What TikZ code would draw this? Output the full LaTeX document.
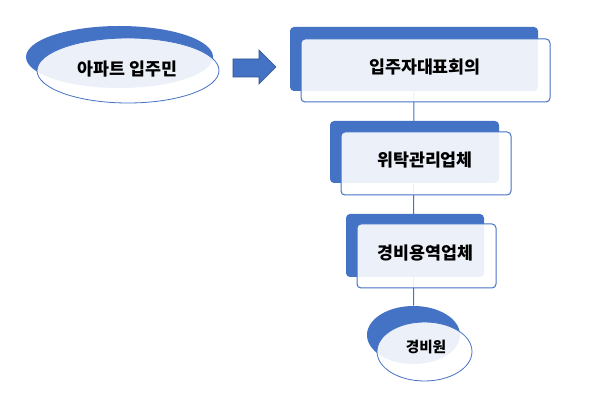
\documentclass[tikz,border=0pt]{standalone}
\usepackage{fontspec}
\newfontfamily\kr{Noto Sans CJK KR}
\usetikzlibrary{shapes.geometric}
\definecolor{accent}{HTML}{4472C4}
\definecolor{accentdark}{HTML}{2F528F}
\pgfdeclarelayer{bg}
\pgfdeclarelayer{line}
\pgfsetlayers{bg,line,main}
\tikzset{
  backbox/.style={rectangle, rounded corners=3pt, fill=accent, draw=none, inner sep=0pt},
  frontbox/.style={rectangle, rounded corners=3pt, fill=white, fill opacity=0.9, draw=accent, line width=0.75pt, inner sep=0pt},
  backell/.style={ellipse, fill=accent, draw=none, inner sep=0pt},
  frontell/.style={ellipse, fill=white, fill opacity=0.9, draw=accent, line width=0.6pt, inner sep=0pt},
  lbl/.style={font=\kr\bfseries\fontsize{13pt}{15pt}\selectfont, text=black, inner sep=0pt},
  smalllbl/.style={font=\kr\bfseries\fontsize{11pt}{13pt}\selectfont, text=black, inner sep=0pt},
  link/.style={draw=accent, line width=0.75pt}
}
\begin{document}
\begin{tikzpicture}[x=0.75pt,y=-0.75pt]
\useasboundingbox (0,0) rectangle (594,406);
\begin{pgfonlayer}{bg}
\fill[white] (0,0) rectangle (594,406);
\end{pgfonlayer}
% back shapes (positions in px; sizes in pt = px*0.75)
\node[backell, minimum width=140.25pt, minimum height=46.5pt] (e1b) at (119.5,57) {};
\node[backbox, minimum width=186pt, minimum height=48pt] (b1b) at (414,59) {};
\node[backbox, minimum width=126.75pt, minimum height=46.5pt] (b2b) at (414.5,152) {};
\node[backbox, minimum width=103.5pt, minimum height=47.25pt] (b3b) at (415,245.5) {};
\node[backell, minimum width=69.75pt, minimum height=43.5pt] (e4b) at (413.5,335) {};
% connector behind the shapes
\begin{pgfonlayer}{line}
\draw[link] (b1b.center) -- (e4b.north);
\end{pgfonlayer}
% front shapes
\node[frontell, minimum width=136.5pt, minimum height=48.75pt] (e1f) at (128,70.5) {};
\node[frontbox, minimum width=186.75pt, minimum height=47.25pt] (b1f) at (425.5,70.5) {};
\node[frontbox, minimum width=127.5pt, minimum height=47.25pt] (b2f) at (426,163.5) {};
\node[frontbox, minimum width=104.25pt, minimum height=48pt] (b3f) at (426.5,256) {};
\node[frontell, minimum width=71.25pt, minimum height=44.25pt] (e4f) at (424.5,351.5) {};
% labels
\node[lbl] (t1) at (127.5,69) {아파트 입주민};
\node[lbl] (t2) at (425,67) {입주자대표회의};
\node[lbl] (t3) at (425,160) {위탁관리업체};
\node[lbl] (t4) at (425.5,253) {경비용역업체};
\node[smalllbl] (t5) at (426,347.5) {경비원};
% block arrow
\draw[fill=accent, draw=accentdark, line width=0.5pt]
  (233,59) -- (259,59) -- (259,50) -- (276,67) -- (259,84) -- (259,77) -- (233,77) -- cycle;
\end{tikzpicture}
\end{document}
